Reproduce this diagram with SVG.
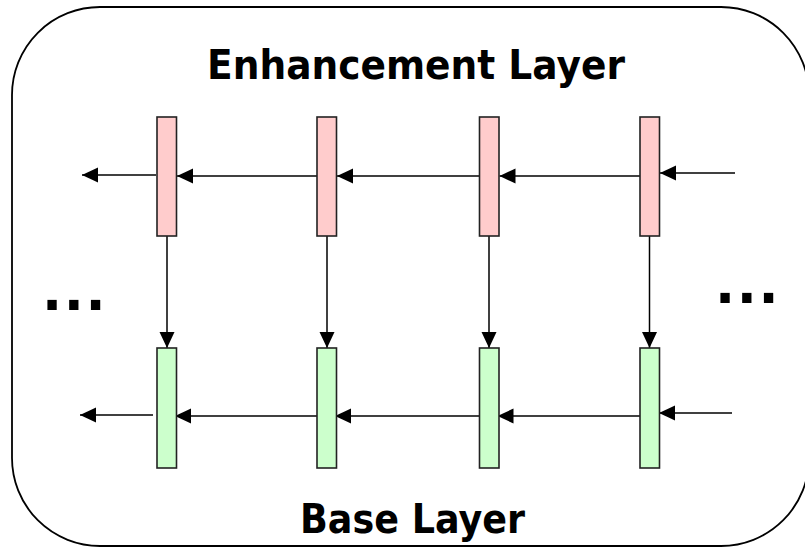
<svg xmlns="http://www.w3.org/2000/svg" width="805" height="547" viewBox="0 0 805 547">
  <style>
    .frame { fill: #ffffff; stroke: #000000; stroke-width: 1.8; }
    .enh { fill: #ffcccc; stroke: #222222; stroke-width: 1.6; }
    .base { fill: #ccffcc; stroke: #222222; stroke-width: 1.6; }
    .conn { stroke: #000000; stroke-width: 1.5; fill: none; marker-end: url(#arrow); }
    .title { font-family: "DejaVu Sans", "Liberation Sans", sans-serif; font-weight: bold; font-size: 41px; fill: #000000; }
    .dots { font-family: "DejaVu Sans", sans-serif; font-weight: bold; font-size: 53px; fill: #000000; letter-spacing: 1.6px; }
  </style>
  <defs>
    <marker id="arrow" markerUnits="userSpaceOnUse" markerWidth="17" markerHeight="16" refX="16" refY="7.5" orient="auto">
      <path d="M0,0 L16,7.5 L0,15 Z" fill="#000000"/>
    </marker>
  </defs>
  <rect width="805" height="547" fill="#ffffff"/>
  <rect id="frame" class="frame" x="12" y="7" width="797" height="539" rx="88" ry="88"/>

  <text id="label-enhancement" class="title" x="207" y="79" textLength="418" lengthAdjust="spacingAndGlyphs">Enhancement Layer</text>
  <text id="label-base" class="title" x="300" y="533" textLength="225" lengthAdjust="spacingAndGlyphs">Base Layer</text>

  <text id="dots-left" class="dots" x="42" y="310">...</text>
  <text id="dots-right" class="dots" x="715" y="302.7">...</text>

  <g id="connectors">
    <line class="conn" x1="735" y1="173" x2="660" y2="173"/>
    <line class="conn" x1="640" y1="176" x2="499.5" y2="176"/>
    <line class="conn" x1="479" y1="176" x2="337" y2="176"/>
    <line class="conn" x1="317" y1="176" x2="177" y2="176"/>
    <line class="conn" x1="156" y1="175" x2="82" y2="175"/>

    <line class="conn" x1="732" y1="413" x2="659" y2="413"/>
    <line class="conn" x1="640" y1="416" x2="497.5" y2="416"/>
    <line class="conn" x1="479" y1="416" x2="335" y2="416"/>
    <line class="conn" x1="317" y1="416" x2="175" y2="416"/>
    <line class="conn" x1="153" y1="415" x2="80" y2="415"/>

    <line class="conn" x1="167" y1="236" x2="167" y2="348"/>
    <line class="conn" x1="327" y1="236" x2="327" y2="348"/>
    <line class="conn" x1="489" y1="236" x2="489" y2="348"/>
    <line class="conn" x1="649.5" y1="236" x2="649.5" y2="348"/>
  </g>

  <g id="enh-1"><rect class="enh" x="157" y="117" width="19.5" height="119"/></g>
  <g id="enh-2"><rect class="enh" x="317" y="117" width="19.5" height="119"/></g>
  <g id="enh-3"><rect class="enh" x="479.5" y="117" width="19.5" height="119"/></g>
  <g id="enh-4"><rect class="enh" x="640" y="117" width="19.5" height="119"/></g>

  <g id="base-1"><rect class="base" x="157" y="348" width="19.5" height="120"/></g>
  <g id="base-2"><rect class="base" x="317" y="348" width="19.5" height="120"/></g>
  <g id="base-3"><rect class="base" x="479.5" y="348" width="19.5" height="120"/></g>
  <g id="base-4"><rect class="base" x="640" y="348" width="19.5" height="120"/></g>
</svg>
